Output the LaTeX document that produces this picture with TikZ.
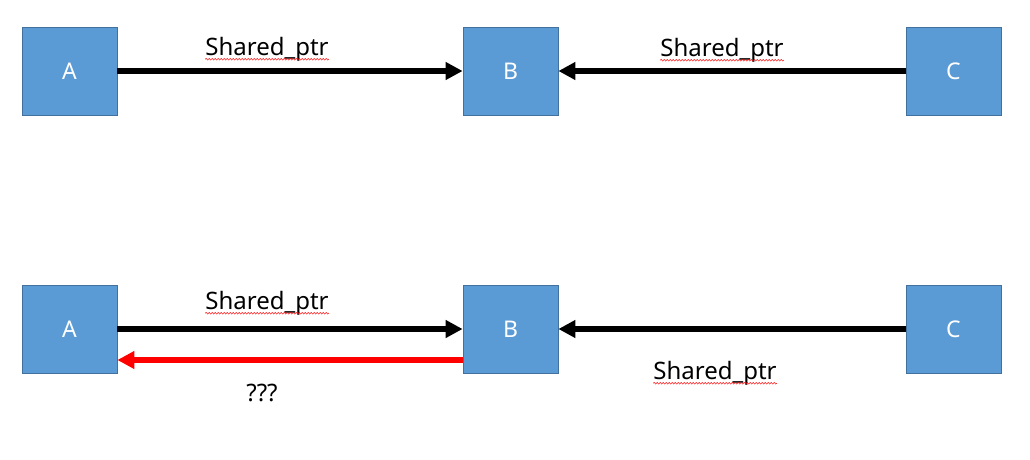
\documentclass[tikz,border=0pt]{standalone}
\usepackage{fontspec}
\setmainfont{Noto Sans}
\usetikzlibrary{arrows.meta,decorations.pathmorphing}
\definecolor{boxblue}{HTML}{5B9BD5}
\definecolor{boxline}{HTML}{41719C}
\begin{document}
\begin{tikzpicture}
  [x=1pt,y=-1pt,
   obj/.style={rectangle,fill=boxblue,draw=boxline,line width=0.8pt,minimum width=95pt,minimum height=88pt,text=white,font=\fontsize{23}{27}\selectfont},
   lbl/.style={inner sep=0pt,font=\fontsize{24}{28}\selectfont},
   ptr/.style={line width=5.5pt,-{Triangle[length=17pt,width=17pt]}},
   wavy/.style={draw=red,line width=0.5pt,decorate,decoration={snake,amplitude=0.8pt,segment length=3pt}}]

  \useasboundingbox (0,0) rectangle (1030,459);

  % top row
  \node[obj] (a1) at (69.5,71) {A};
  \node[obj] (b1) at (510.5,71) {B};
  \node[obj] (c1) at (953.5,71) {C};

  \node[lbl] (l1) at (267,49) {Shared\_ptr};
  \node[lbl] (l2) at (722,50) {Shared\_ptr};

  \path[draw,ptr]
     (a1) edge (b1)
     (c1) edge (b1);

  % bottom row
  \node[obj] (a2) at (69.5,329) {A};
  \node[obj] (b2) at (510.5,329) {B};
  \node[obj] (c2) at (953.5,329) {C};

  \node[lbl] (l3) at (267,303) {Shared\_ptr};
  \node[lbl] (l4) at (715,373) {Shared\_ptr};
  \node[lbl] (q) at (262,393) {???};

  \path[draw,ptr]
     (a2) edge (b2)
     (c2) edge (b2);
  \draw[ptr,red] ([yshift=-31pt]b2.west) -- ([yshift=-31pt]a2.east);

  % spell check marks
  \foreach \l in {l1,l2,l3,l4}
    \path[wavy] ([yshift=-4pt]\l.base west) -- ([yshift=-4pt]\l.base east);

\end{tikzpicture}
\end{document}
